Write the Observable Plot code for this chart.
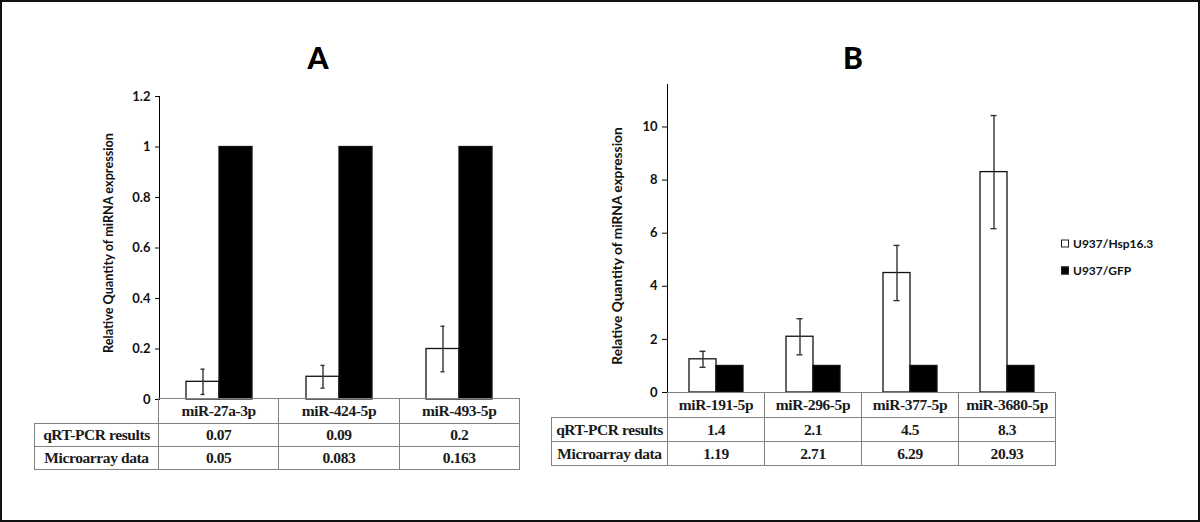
<!DOCTYPE html>
<html>
<head>
<meta charset="utf-8">
<script src="https://cdn.jsdelivr.net/npm/d3@7"></script>
<script src="https://cdn.jsdelivr.net/npm/@observablehq/plot@0.6"></script>
<style>
  html, body { margin: 0; padding: 0; background: #fff; }
  #root { position: relative; width: 1200px; height: 522px; overflow: hidden; background: #fff; }
  #frame { position: absolute; left: 0; top: 0; width: 1200px; height: 522px; box-sizing: border-box; border: 2px solid #111; pointer-events: none; }
  .abs { position: absolute; }
  .title { font-family: "Lato", "DejaVu Sans", sans-serif; font-weight: 900; font-size: 30px; color: #000; transform: translate(-50%, -50%); line-height: 1; }
  .ylab { font-family: "Lato", sans-serif; font-weight: bold; color: #111; white-space: nowrap; transform: translate(-50%, -50%) rotate(-90deg); line-height: 1; }
  table.dt { border-collapse: collapse; table-layout: fixed; font-family: "Liberation Serif", "Times New Roman", serif; font-size: 15.5px; font-weight: bold; color: #1a1a1a; }
  table.dt td { border: 1px solid #808080; text-align: center; vertical-align: middle; padding: 0; white-space: nowrap; letter-spacing: -0.4px; }
  table.dt td.empty { border: none; }
  .leg { font-family: "Lato", sans-serif; font-weight: bold; font-size: 12px; color: #111; display: flex; align-items: center; transform: translateY(-50%); }
  .leg .box { width: 6px; height: 6px; border: 1px solid #222; margin-right: 4px; }
  svg g[aria-label="y-axis tick"] { stroke: #888; }
  svg g[aria-label="y-axis tick label"] { font-weight: bold; fill: #111; }
</style>
</head>
<body>
<div id="root"></div>
<script>
// ---------- data ----------
const seriesNames = ["U937/Hsp16.3", "U937/GFP"];
const rowLabels = ["qRT-PCR results", "Microarray data"];

const catsA = ["miR-27a-3p", "miR-424-5p", "miR-493-5p"];
const hspA = [0.07, 0.09, 0.2];
const gfpA = [1, 1, 1];
const errA = [0.05, 0.045, 0.09];
const qrtA = ["0.07", "0.09", "0.2"];
const microA = ["0.05", "0.083", "0.163"];
const yTicksA = [0, 0.2, 0.4, 0.6, 0.8, 1, 1.2];

const catsB = ["miR-191-5p", "miR-296-5p", "miR-377-5p", "miR-3680-5p"];
const hspB = [1.25, 2.1, 4.5, 8.3];
const gfpB = [1, 1, 1, 1];
const errB = [0.3, 0.68, 1.04, 2.13];
const qrtB = ["1.4", "2.1", "4.5", "8.3"];
const microB = ["1.19", "2.71", "6.29", "20.93"];
const yTicksB = [0, 2, 4, 6, 8, 10];

const yLabel = "Relative Quantity of miRNA expression";

// ---------- helpers ----------
const root = document.getElementById("root");

function buildRows(cats, hsp, gfp, err) {
  const rows = [];
  cats.forEach((c, i) => {
    rows.push({cat: c, series: seriesNames[0], value: hsp[i], err: err[i]});
    rows.push({cat: c, series: seriesNames[1], value: gfp[i], err: null});
  });
  return rows;
}

function panel(cfg) {
  const rows = buildRows(cfg.cats, cfg.hsp, cfg.gfp, cfg.err);
  const errRows = rows.filter(d => d.err != null);
  const chart = Plot.plot({
    width: cfg.width, height: cfg.height,
    marginLeft: cfg.marginLeft, marginRight: cfg.marginRight,
    marginTop: cfg.marginTop, marginBottom: cfg.marginBottom,
    style: {background: "transparent", fontFamily: "Lato, sans-serif", fontSize: "13px", overflow: "visible"},
    fx: {domain: cfg.cats, padding: 0, axis: null, label: null},
    x: {domain: seriesNames, paddingInner: 0, paddingOuter: 0.77, axis: null},
    y: {domain: cfg.domain, ticks: cfg.ticks, tickFormat: d3.format("~g"), tickSize: cfg.tickSize, tickPadding: 5, line: true, label: null},
    color: {domain: seriesNames, range: ["white", "black"]},
    marks: [
      Plot.barY(rows, {fx: "cat", x: "series", y: "value", fill: "series", stroke: "#111", strokeWidth: 1.3}),
      Plot.ruleX(errRows, {fx: "cat", x: "series", y1: d => d.value - d.err, y2: d => d.value + d.err, stroke: "#333", strokeWidth: 1.4}),
      Plot.tickY(errRows, {fx: "cat", x: "series", y: d => d.value - d.err, stroke: "#333", strokeWidth: 1.4, insetLeft: cfg.capInset, insetRight: cfg.capInset}),
      Plot.tickY(errRows, {fx: "cat", x: "series", y: d => d.value + d.err, stroke: "#333", strokeWidth: 1.4, insetLeft: cfg.capInset, insetRight: cfg.capInset})
    ]
  });
  const wrap = document.createElement("div");
  wrap.className = "abs";
  wrap.style.left = cfg.left + "px";
  wrap.style.top = cfg.top + "px";
  wrap.appendChild(chart);
  root.appendChild(wrap);
}

function table(cfg) {
  const t = document.createElement("table");
  t.className = "dt abs";
  t.style.left = cfg.left + "px";
  t.style.top = cfg.top + "px";
  t.style.width = (cfg.labelW + cfg.colW * cfg.cats.length) + "px";
  const cg = document.createElement("colgroup");
  [cfg.labelW, ...cfg.cats.map(() => cfg.colW)].forEach(w => {
    const c = document.createElement("col"); c.style.width = w + "px"; cg.appendChild(c);
  });
  t.appendChild(cg);
  const lines = [["", ...cfg.cats], [rowLabels[0], ...cfg.qrt], [rowLabels[1], ...cfg.micro]];
  lines.forEach((ln, r) => {
    const tr = document.createElement("tr");
    tr.style.height = cfg.rowH[r] + "px";
    ln.forEach((txt, j) => {
      const td = document.createElement("td");
      td.textContent = txt;
      if (r === 0 && j === 0) td.className = "empty";
      tr.appendChild(td);
    });
    t.appendChild(tr);
  });
  root.appendChild(t);
}

function text(cls, txt, x, y, extra) {
  const d = document.createElement("div");
  d.className = "abs " + cls;
  d.textContent = txt;
  d.style.left = x + "px";
  d.style.top = y + "px";
  Object.assign(d.style, extra || {});
  root.appendChild(d);
}

// ---------- panel A ----------
panel({cats: catsA, hsp: hspA, gfp: gfpA, err: errA, domain: [0, 1.2], ticks: yTicksA,
  left: 0, top: 0, width: 530, height: 400, marginLeft: 158, marginRight: 11, marginTop: 96, marginBottom: 1,
  tickSize: 4, capInset: 14.5});
table({cats: catsA, qrt: qrtA, micro: microA, left: 34, top: 398, labelW: 124, colW: 120.3, rowH: [25, 23, 23]});
text("title", "A", 318, 57);
text("ylab", yLabel, 108, 243, {fontSize: "12.7px"});

// ---------- panel B ----------
panel({cats: catsB, hsp: hspB, gfp: gfpB, err: errB, domain: [0, 11.6], ticks: yTicksB,
  left: 540, top: 0, width: 530, height: 393, marginLeft: 127, marginRight: 15, marginTop: 84, marginBottom: 1,
  tickSize: 5, capInset: 10.5});
table({cats: catsB, qrt: qrtB, micro: microB, left: 551, top: 392, labelW: 116, colW: 97, rowH: [25, 24, 24]});
text("title", "B", 853, 57);
text("ylab", yLabel, 617, 246, {fontSize: "13.7px"});

// ---------- legend ----------
seriesNames.forEach((s, i) => {
  const d = document.createElement("div");
  d.className = "abs leg";
  d.style.left = "1061px";
  d.style.top = (243 + i * 27) + "px";
  const b = document.createElement("div");
  b.className = "box";
  b.style.background = i === 0 ? "#fff" : "#000";
  d.appendChild(b);
  const sp = document.createElement("span");
  sp.textContent = s;
  d.appendChild(sp);
  root.appendChild(d);
});

const fr = document.createElement("div");
fr.id = "frame";
root.appendChild(fr);
</script>
</body>
</html>
